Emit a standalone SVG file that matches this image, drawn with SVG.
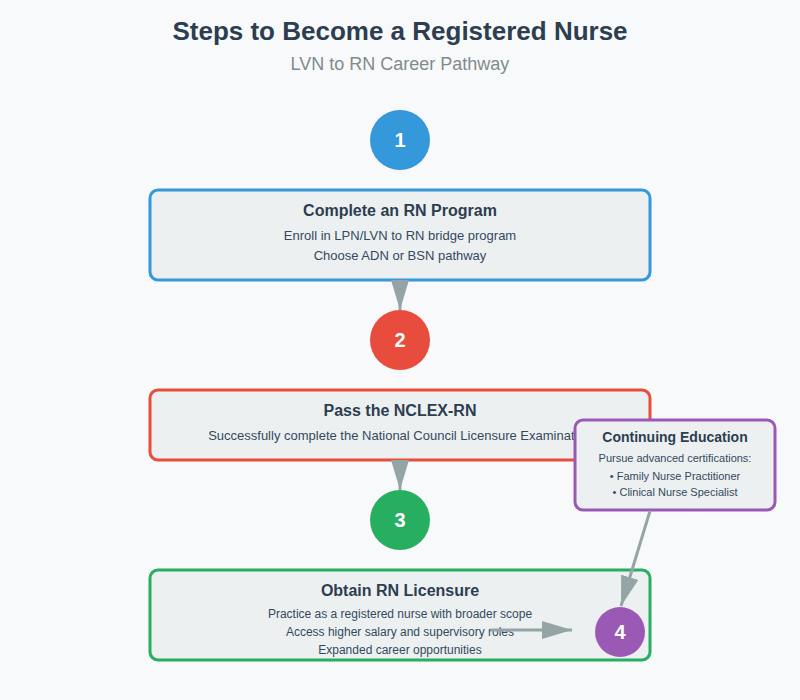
<svg xmlns="http://www.w3.org/2000/svg" width="800" height="700" viewBox="0 0 800 700">
<defs>
<marker id="ah" markerWidth="10" markerHeight="6" refX="10" refY="3" orient="auto" markerUnits="strokeWidth">
<polygon points="0 0, 10 3, 0 6" fill="#95a5a6"/>
</marker>
<style>
text{font-family:"Liberation Sans",Arial,sans-serif;text-anchor:middle}
.title{font-size:26px;font-weight:bold;fill:#2c3e50}
.sub{font-size:18px;fill:#7f8c8d}
.box{fill:#ecf0f1;stroke-width:3}
.bt{font-size:16px;font-weight:bold;fill:#2c3e50}
.bl{font-size:13px;fill:#34495e}
.bs{font-size:12px;fill:#34495e}
.num{font-size:20px;font-weight:bold;fill:#ffffff}
.ct{font-size:14px;font-weight:bold;fill:#2c3e50}
.cl{font-size:11px;fill:#34495e}
.conn{stroke:#95a5a6;stroke-width:3;fill:none;marker-end:url(#ah)}
</style>
</defs>
<rect width="800" height="700" fill="#f8f9fa"/>
<text class="title" x="400" y="40">Steps to Become a Registered Nurse</text>
<text class="sub" x="400" y="70">LVN to RN Career Pathway</text>

<g id="step1">
<circle cx="400" cy="140" r="30" fill="#3498db"/>
<text class="num" x="400" y="147">1</text>
</g>
<g id="box1">
<rect class="box" x="150" y="190" width="500" height="90" rx="8" stroke="#3498db"/>
<text class="bt" x="400" y="216">Complete an RN Program</text>
<text class="bl" x="400" y="240">Enroll in LPN/LVN to RN bridge program</text>
<text class="bl" x="400" y="260">Choose ADN or BSN pathway</text>
</g>
<g id="step2">
<circle cx="400" cy="340" r="30" fill="#e74c3c"/>
<text class="num" x="400" y="347">2</text>
</g>
<g id="box2">
<rect class="box" x="150" y="390" width="500" height="70" rx="8" stroke="#e74c3c"/>
<text class="bt" x="400" y="416">Pass the NCLEX-RN</text>
<text class="bl" x="400" y="440">Successfully complete the National Council Licensure Examination</text>
</g>
<g id="step3">
<circle cx="400" cy="520" r="30" fill="#27ae60"/>
<text class="num" x="400" y="527">3</text>
</g>
<g id="box3">
<rect class="box" x="150" y="570" width="500" height="90" rx="8" stroke="#27ae60"/>
<text class="bt" x="400" y="596">Obtain RN Licensure</text>
<text class="bs" x="400" y="618">Practice as a registered nurse with broader scope</text>
<text class="bs" x="400" y="636">Access higher salary and supervisory roles</text>
<text class="bs" x="400" y="654">Expanded career opportunities</text>
</g>
<g id="ce">
<rect class="box" x="575" y="420" width="200" height="90" rx="8" stroke="#9b59b6"/>
<text class="ct" x="675" y="442">Continuing Education</text>
<text class="cl" x="675" y="462">Pursue advanced certifications:</text>
<text class="cl" x="675" y="480">• Family Nurse Practitioner</text>
<text class="cl" x="675" y="496">• Clinical Nurse Specialist</text>
</g>
<g id="connectors">
<line class="conn" x1="400" y1="280" x2="400" y2="310"/>
<line class="conn" x1="400" y1="460" x2="400" y2="490"/>
<line class="conn" x1="650" y1="511" x2="621" y2="606"/>
<line class="conn" x1="490" y1="630" x2="572" y2="630"/>
</g>
<g id="step4">
<circle cx="620" cy="632" r="25" fill="#9b59b6"/>
<text class="num" x="620" y="639">4</text>
</g>
</svg>
